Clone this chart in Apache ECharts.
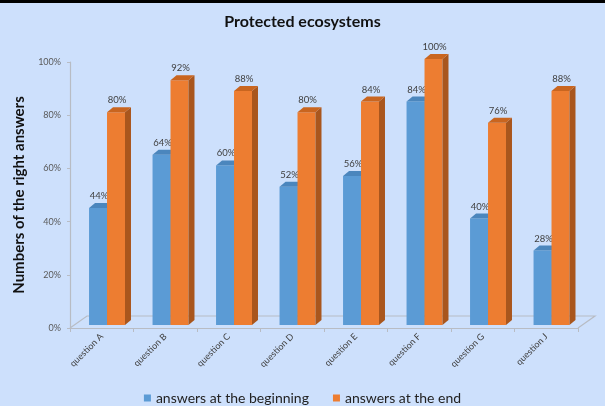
<!DOCTYPE html>
<html>
<head>
<meta charset="utf-8">
<script src="https://cdn.jsdelivr.net/npm/echarts@6/dist/echarts.min.js"></script>
<style>
html,body{margin:0;padding:0;background:#cde0fc;}
#c{width:605px;height:406px;}
</style>
</head>
<body>
<div id="c"></div>
<script>
var categories = ['question A','question B','question C','question D','question E','question F','question G','question J'];
var beginning = [44, 64, 60, 52, 56, 84, 40, 28];
var endValues = [80, 92, 88, 80, 84, 100, 76, 88];
var yTicks = [0, 20, 40, 60, 80, 100];

var FONT = 'Lato, "Liberation Sans", sans-serif';
var palette = {
  blue: {front: '#5b9bd5', side: '#3f74a6', top: '#4b86bd'},
  orange: {front: '#ed7d31', side: '#a9561d', top: '#c9651f'}
};

function barRender(pal, idx) {
  return function (params, api) {
    var i = api.value(0), v = api.value(1);
    var base = api.coord([i, 0]);
    var topP = api.coord([i, v]);
    var bw = api.size([1, 0])[0];
    var w = bw * 0.283;
    var c = base[0];
    var x0 = idx === 0 ? c - bw * 0.2 : c - bw * 0.2 + w;
    var yb = base[1] - 3, yt = topP[1] - 3;
    var dx = 6, dy = -5;
    return {
      type: 'group',
      children: [
        {type: 'rect', shape: {x: x0, y: yt, width: w, height: yb - yt}, style: {fill: pal.front}},
        {type: 'polygon', shape: {points: [[x0 + w, yt], [x0 + w + dx, yt + dy], [x0 + w + dx, yb + dy], [x0 + w, yb]]}, style: {fill: pal.side}},
        {type: 'polygon', shape: {points: [[x0, yt], [x0 + w, yt], [x0 + w + dx, yt + dy], [x0 + dx, yt + dy]]}, style: {fill: pal.top}},
        {type: 'text', x: x0 + w / 2 + 1, y: yt - 12, style: {text: v + '%', fill: '#404040', font: '9.5px ' + FONT, align: 'center', verticalAlign: 'middle'}}
      ]
    };
  };
}

function floorRender(params, api) {
  var bw = api.size([1, 0])[0];
  var l = api.coord([0, 0]); var r = api.coord([categories.length - 1, 0]);
  var x1 = l[0] - bw / 2, x2 = r[0] + bw / 2, y = l[1];
  var dx = 17, dy = -12;
  return {
    type: 'polyline',
    shape: {points: [[x1, y], [x1 + dx, y + dy], [x2 + dx, y + dy], [x2, y]]},
    style: {stroke: '#b8bcc4', lineWidth: 1.2, fill: null}
  };
}

var chart = echarts.init(document.getElementById('c'), null, {renderer: 'canvas'});
chart.setOption({
  backgroundColor: '#cde0fc',
  animation: false,
  title: {
    text: 'Protected ecosystems', left: 'center', top: 9,
    textStyle: {fontFamily: FONT, fontWeight: 'bold', fontSize: 16, color: '#111'}
  },
  graphic: [{type: 'rect', left: 0, top: 0, shape: {width: 605, height: 3}, style: {fill: '#000'}}],
  legend: {
    data: ['answers at the beginning', 'answers at the end'],
    top: 386, left: 'center', icon: 'rect', itemWidth: 7, itemHeight: 7, itemGap: 24,
    textStyle: {fontFamily: FONT, fontSize: 14, color: '#222'}
  },
  grid: {left: 70, right: 27, top: 62, bottom: 78, containLabel: false},
  xAxis: {
    type: 'category', data: categories,
    axisLine: {show: true, lineStyle: {color: '#b8bcc4', width: 1.2}},
    axisTick: {show: true, length: 4, lineStyle: {color: '#b8bcc4'}},
    axisLabel: {rotate: 45, interval: 0, fontSize: 9, color: '#404040', fontFamily: FONT, margin: 7}
  },
  yAxis: {
    type: 'value', min: 0, max: 100, interval: 20,
    name: 'Numbers of the right answers', nameLocation: 'middle', nameGap: 43,
    nameTextStyle: {fontFamily: FONT, fontWeight: 'bold', fontSize: 15, color: '#111'},
    axisLine: {show: true, lineStyle: {color: '#b8bcc4', width: 1.2}},
    axisTick: {show: true, length: 3, lineStyle: {color: '#b8bcc4'}},
    splitLine: {show: false},
    axisLabel: {formatter: function (v) { return yTicks.indexOf(v) >= 0 ? v + '%' : ''; }, fontSize: 9, color: '#595959', fontFamily: FONT, margin: 9}
  },
  series: [
    {type: 'custom', name: 'floor', renderItem: floorRender, data: [[0, 0]], silent: true, z: 1},
    {type: 'custom', name: 'answers at the beginning', itemStyle: {color: palette.blue.front},
     renderItem: barRender(palette.blue, 0), data: beginning.map(function (v, i) { return [i, v]; }), z: 2},
    {type: 'custom', name: 'answers at the end', itemStyle: {color: palette.orange.front},
     renderItem: barRender(palette.orange, 1), data: endValues.map(function (v, i) { return [i, v]; }), z: 3}
  ]
});
</script>
</body>
</html>
